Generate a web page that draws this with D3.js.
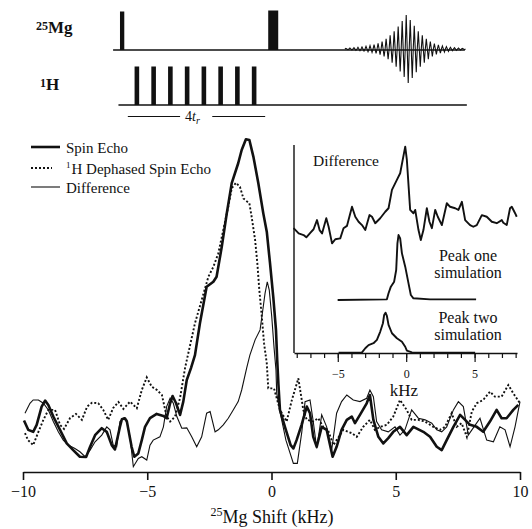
<!DOCTYPE html>
<html>
<head>
<meta charset="utf-8">
<script src="https://cdn.jsdelivr.net/npm/d3@7"></script>
<style>
  body { margin: 0; background: #fff; }
</style>
</head>
<body>
<div id="chart"></div>
<script>
// main spectrum, [shift kHz, intensity]
const spinEcho = [[-9.96,15.5],[-9.79,12.7],[-9.59,12.1],[-9.45,14.2],[-9.25,19.7],[-9.11,21.5],[-8.98,20.2],[-8.78,16.7],[-8.51,12.7],[-8.24,8.6],[-7.98,6.6],[-7.71,4.6],[-7.46,4.5],[-7.30,7.6],[-7.10,11.1],[-6.83,13.2],[-6.63,12.1],[-6.43,8.1],[-6.30,6.8],[-6.10,13.6],[-6.02,15.9],[-5.90,16.2],[-5.82,15.2],[-5.63,7.6],[-5.52,4.6],[-5.36,5.6],[-5.22,9.6],[-5.09,13.6],[-4.89,16.2],[-4.62,17.5],[-4.35,16.9],[-4.22,16.2],[-4.08,20.7],[-3.98,22.9],[-3.84,20.7],[-3.68,17.2],[-3.55,21.2],[-3.41,27.7],[-3.24,31.3],[-3.08,35.2],[-2.88,44.8],[-2.61,55.8],[-2.34,57.3],[-2.21,58.8],[-2.00,67.9],[-1.80,77.9],[-1.60,87.0],[-1.34,93.0],[-1.20,97.0],[-1.03,100.2],[-0.89,100],[-0.73,95.0],[-0.53,87.0],[-0.33,77.9],[-0.19,72.4],[-0.06,62.9],[0.07,52.8],[0.18,42.8],[0.23,33.7],[0.28,26.2],[0.34,18.7],[0.54,13.6],[0.77,8.1],[0.88,7.1],[1.01,9.6],[1.21,14.2],[1.42,19.7],[1.55,17.7],[1.68,10.6],[1.82,7.6],[2.02,13.6],[2.22,12.7],[2.46,4.6],[2.62,7.6],[2.82,12.7],[3.03,15.7],[3.23,16.7],[3.36,14.7],[3.56,17.2],[3.83,20.7],[3.96,23.2],[4.10,15.7],[4.30,10.6],[4.50,8.6],[4.70,10.2],[4.90,12.1],[5.17,13.6],[5.44,11.1],[5.71,13.6],[6.11,12.1],[6.38,10.6],[6.65,7.6],[6.85,6.6],[7.05,9.6],[7.32,13.6],[7.59,17.2],[7.79,15.7],[7.99,14.2],[8.26,13.6],[8.52,12.1],[8.79,15.2],[9.06,18.7],[9.26,16.2],[9.46,16.2],[9.73,18.7],[9.93,20.2]];

const dephased = [[-9.92,11.7],[-9.80,9.6],[-9.59,8.1],[-9.38,12.1],[-9.18,15.7],[-8.98,18.7],[-8.71,18.7],[-8.51,14.2],[-8.35,13.0],[-8.11,16.2],[-7.87,17.5],[-7.63,15.7],[-7.42,19.7],[-7.22,20.9],[-6.97,20.7],[-6.77,18.7],[-6.57,15.7],[-6.37,19.3],[-6.16,21.1],[-5.96,19.0],[-5.69,21.2],[-5.42,19.2],[-5.22,24.7],[-5.02,28.5],[-4.82,25.7],[-4.61,24.7],[-4.41,23.2],[-4.22,16.7],[-4.08,15.2],[-3.88,16.7],[-3.68,22.3],[-3.48,31.3],[-3.32,36.7],[-3.08,44.8],[-2.81,51.8],[-2.54,58.8],[-2.34,61.8],[-2.14,65.9],[-1.94,72.9],[-1.74,79.9],[-1.60,85.5],[-1.43,87.1],[-1.27,85.9],[-1.13,82.4],[-0.89,80.9],[-0.80,76.9],[-0.66,69.9],[-0.57,62.9],[-0.49,54.8],[-0.39,46.8],[-0.30,38.8],[-0.19,32.7],[-0.13,25.2],[0.10,25.2],[0.34,18.7],[0.61,15.2],[0.82,21.7],[1.08,28.2],[1.28,18.7],[1.42,15.7],[1.68,15.2],[1.88,16.2],[2.08,13.6],[2.27,12.7],[2.49,8.1],[2.62,9.6],[2.89,12.7],[3.23,11.7],[3.43,10.6],[3.69,13.6],[3.96,15.7],[4.16,12.7],[4.37,13.6],[4.64,14.2],[4.90,16.7],[5.17,21.7],[5.44,18.7],[5.64,15.7],[5.91,15.7],[6.18,15.2],[6.51,13.6],[6.78,12.7],[6.98,13.6],[7.25,17.7],[7.45,13.6],[7.65,14.7],[7.86,10.6],[8.06,18.2],[8.26,20.7],[8.52,21.7],[8.79,24.2],[8.99,22.7],[9.26,22.7],[9.53,26.2],[9.73,23.7],[10.0,20.7]];

const difference = [[-9.92,17.7],[-9.72,20.7],[-9.59,21.7],[-9.38,21.7],[-9.18,20.7],[-8.98,18.7],[-8.78,15.2],[-8.58,12.1],[-8.38,9.6],[-8.18,8.1],[-7.91,7.1],[-7.71,6.1],[-7.50,4.6],[-7.30,6.6],[-7.10,9.1],[-6.83,11.1],[-6.63,13.6],[-6.50,12.7],[-6.37,8.1],[-6.23,7.6],[-6.10,15.2],[-5.96,16.2],[-5.83,15.7],[-5.69,10.2],[-5.56,1.6],[-5.36,4.1],[-5.22,4.6],[-5.02,3.6],[-4.89,8.1],[-4.76,9.6],[-4.49,10.6],[-4.35,13.6],[-4.22,19.7],[-4.08,22.2],[-3.95,20.7],[-3.81,16.7],[-3.61,13.2],[-3.41,13.3],[-3.21,10.6],[-3.01,7.6],[-2.81,10.6],[-2.61,17.7],[-2.47,18.2],[-2.27,12.1],[-2.14,12.7],[-1.94,14.2],[-1.74,16.2],[-1.54,18.7],[-1.34,21.2],[-1.20,24.7],[-1.00,31.3],[-0.87,35.2],[-0.66,39.8],[-0.46,42.8],[-0.35,48.8],[-0.26,53.8],[-0.17,57.3],[-0.09,54.8],[0.01,46.8],[0.10,37.7],[0.18,30.7],[0.21,23.7],[0.34,18.2],[0.58,9.6],[0.88,2.6],[1.04,2.6],[1.22,12.1],[1.35,21.2],[1.55,21.7],[1.68,15.2],[1.82,7.1],[2.02,17.2],[2.22,13.6],[2.42,6.6],[2.62,17.7],[2.82,21.2],[3.03,23.2],[3.29,21.7],[3.56,21.2],[3.83,22.2],[3.96,24.7],[4.10,22.7],[4.23,15.2],[4.43,12.7],[4.70,12.1],[4.97,13.6],[5.17,11.1],[5.37,12.7],[5.64,18.7],[5.91,16.2],[6.18,15.7],[6.45,14.7],[6.65,12.7],[6.85,12.1],[7.05,13.6],[7.32,18.7],[7.52,21.2],[7.72,19.7],[7.92,11.1],[8.12,13.3],[8.39,16.2],[8.66,9.6],[8.93,9.1],[9.19,13.6],[9.40,12.7],[9.60,7.6],[9.80,13.6],[10.0,21.2]];

// inset traces (stacked, intensity includes the vertical offset)
const insetDiff = [[-8.23,60],[-7.86,57.5],[-7.50,56.7],[-7.30,55.6],[-7.01,57.8],[-6.77,59.5],[-6.52,63.9],[-6.33,59.1],[-6.15,57.5],[-5.84,64.8],[-5.67,60.7],[-5.42,52.7],[-5.18,54.7],[-4.82,55.1],[-4.58,60],[-4.33,61.1],[-3.96,70.3],[-3.72,65.5],[-3.48,63.1],[-3.23,61.5],[-2.99,59.1],[-2.68,66.3],[-2.50,65.5],[-2.26,62.4],[-1.90,64.8],[-1.53,67.9],[-1.29,69.6],[-1.04,78.4],[-0.68,83.2],[-0.44,86.4],[-0.07,99.2],[0.05,92.8],[0.29,68.8],[0.53,67.2],[0.66,68.8],[0.90,59.1],[1.07,54.3],[1.26,59.1],[1.51,69.6],[1.70,63.1],[1.88,60],[2.12,68.8],[2.31,65.5],[2.61,61.5],[2.97,72],[3.21,70.3],[3.58,69.6],[3.82,68.8],[4.07,72.7],[4.31,63.9],[4.67,61.5],[4.91,60.7],[5.16,61.5],[5.53,66.3],[5.89,65.5],[6.26,63.1],[6.62,62.4],[6.99,63.9],[7.10,62.6],[7.35,61.5],[7.59,69.6],[7.72,70.3],[7.96,67.2],[8.08,65.5]];
const peakOne = [[-5.01,25.5],[-1.41,25.8],[-1.29,28.7],[-1.12,31.9],[-0.88,34.3],[-0.73,39.9],[-0.64,52.7],[-0.56,56.7],[-0.44,55.1],[-0.31,47.9],[-0.07,41.5],[0.17,33.5],[0.34,27.9],[0.53,26.3],[1.75,25.8],[5.11,25.8]];
const peakTwo = [[-4.94,0.1],[-3.23,0.3],[-2.99,2.3],[-2.75,3.8],[-2.39,4.7],[-2.14,6.3],[-1.90,10.2],[-1.70,14.3],[-1.61,18.3],[-1.51,19.4],[-1.41,17.8],[-1.29,13.5],[-1.04,9.5],[-0.68,7.1],[-0.31,5.4],[-0.07,3.0],[0.05,1.1],[0.42,0.3],[5.04,0.1]];

const mainTicks = [-10, -5, 0, 5, 10];
const insetMinorTicks = d3.range(-8, 9);
const insetMajorTicks = [-5, 0, 5];

// pulse sequence, times in units of t_r
const mgPulseTimes = [-0.19, 4.32];
const hPulseTimes = [0.25, 0.75, 1.25, 1.75, 2.25, 2.75, 3.25, 3.75];
const echoAmp = [0.02,0.03,0.04,0.05,0.06,0.08,0.1,0.13,0.17,0.22,0.3,0.4,0.52,0.66,0.82,1,0.85,0.68,0.52,0.4,0.3,0.22,0.16,0.12,0.09,0.07,0.05,0.04,0.03,0.02];

const width = 532, height = 529;
const ink = "#111";
const serif = "'Liberation Serif', 'Times New Roman', Times, serif";

const svg = d3.select("#chart").append("svg")
    .attr("width", width)
    .attr("height", height)
    .style("font-family", serif);

// ---- pulse sequence ----
const seqX = d3.scaleLinear().domain([0, 4]).range([128.5, 262.5]);
const mgBase = 50, hBase = 105;

svg.append("line").attr("x1", seqX(-0.46)).attr("x2", seqX(10.04))
    .attr("y1", mgBase).attr("y2", mgBase).attr("stroke", ink).attr("stroke-width", 1.3);
svg.append("line").attr("x1", seqX(-0.3)).attr("x2", seqX(10.1))
    .attr("y1", hBase).attr("y2", hBase).attr("stroke", ink).attr("stroke-width", 1.3);

const mgW = [4.3, 10], mgTop = [11.5, 10.5];
svg.selectAll("rect.mg").data(mgPulseTimes).enter().append("rect")
    .attr("class", "mg")
    .attr("x", (d, i) => seqX(d) - mgW[i] / 2)
    .attr("width", (d, i) => mgW[i])
    .attr("y", (d, i) => mgTop[i])
    .attr("height", (d, i) => mgBase - mgTop[i])
    .attr("fill", ink);

svg.selectAll("rect.h").data(hPulseTimes).enter().append("rect")
    .attr("class", "h")
    .attr("x", d => seqX(d) - 2.3)
    .attr("width", 4.6)
    .attr("y", 66.5)
    .attr("height", hBase - 66.5)
    .attr("fill", ink);

// echo signal
const echoY = d3.scaleLinear().domain([-1, 1]).range([mgBase + 33, mgBase - 35]);
const echoT0 = 6.46, echoP = 0.12;
const echoPts = [];
echoAmp.forEach((a, i) => {
    const t = echoT0 + i * echoP;
    echoPts.push([t, 0], [t + echoP * 0.25, a], [t + echoP * 0.75, -a]);
});
echoPts.push([echoT0 + echoAmp.length * echoP, 0]);
svg.append("path")
    .attr("d", d3.line().x(d => seqX(d[0])).y(d => echoY(d[1]))(echoPts))
    .attr("fill", "none").attr("stroke", ink).attr("stroke-width", 1.1);

// channel labels
function txt(xp, yp, size) {
    return svg.append("text").attr("x", xp).attr("y", yp)
        .style("font-family", serif).attr("font-size", size).attr("fill", ink);
}
const mgLab = txt(36, 33, 17).attr("font-weight", "bold");
mgLab.append("tspan").attr("font-size", 12).attr("dy", -3).text("25");
mgLab.append("tspan").attr("dy", 3).text("Mg");
const hLab = txt(40, 90, 17).attr("font-weight", "bold");
hLab.append("tspan").attr("font-size", 12).attr("dy", -3).text("1");
hLab.append("tspan").attr("dy", 3).text("H");

// 4 t_r span
svg.append("line").attr("x1", seqX(-0.02)).attr("x2", seqX(1.54))
    .attr("y1", 116.5).attr("y2", 116.5).attr("stroke", ink).attr("stroke-width", 1);
svg.append("line").attr("x1", seqX(2.5)).attr("x2", seqX(4.08))
    .attr("y1", 116.5).attr("y2", 116.5).attr("stroke", ink).attr("stroke-width", 1);
const trLab = txt(185, 121, 14);
trLab.append("tspan").text("4");
trLab.append("tspan").attr("font-style", "italic").text("t");
trLab.append("tspan").attr("font-style", "italic").attr("font-size", 10).attr("dy", 3).text("r");

// ---- main spectrum ----
const x = d3.scaleLinear().domain([-10, 10]).range([23, 520]);
const y = d3.scaleLinear().domain([0, 100]).range([472, 140]);
const line = d3.line().x(d => x(d[0])).y(d => y(d[1]));

svg.append("path").attr("d", line(difference))
    .attr("fill", "none").attr("stroke", ink).attr("stroke-width", 1.1);
svg.append("path").attr("d", line(dephased))
    .attr("fill", "none").attr("stroke", ink).attr("stroke-width", 1.9)
    .attr("stroke-dasharray", "2,2");
svg.append("path").attr("d", line(spinEcho))
    .attr("fill", "none").attr("stroke", ink).attr("stroke-width", 2.6)
    .attr("stroke-linejoin", "round");

const xAxis = svg.append("g")
    .attr("transform", `translate(0,472)`)
    .call(d3.axisBottom(x).tickValues(mainTicks).tickSize(8).tickSizeOuter(0).tickPadding(6)
        .tickFormat(d3.format("d")));
xAxis.attr("font-family", null);
xAxis.select(".domain").attr("stroke", ink).attr("stroke-width", 1.6);
xAxis.selectAll(".tick line").attr("stroke", ink).attr("stroke-width", 1.6);
xAxis.selectAll(".tick text").attr("font-size", 16).style("font-family", serif).attr("fill", ink);

const xTitle = txt(272, 523, 18).attr("text-anchor", "middle");
xTitle.append("tspan").attr("font-size", 12).attr("dy", -7).text("25");
xTitle.append("tspan").attr("dy", 7).text("Mg Shift (kHz)");

// legend
const legendRows = ["Spin Echo", "H Dephased Spin Echo", "Difference"];
const legendY = [153, 174, 193];
const legW = [2.6, 1.9, 1.1], legLen = [29, 21, 29], legDash = [null, "2,2", null];
legendRows.forEach((name, i) => {
    svg.append("line")
        .attr("x1", 31).attr("x2", 31 + legLen[i])
        .attr("y1", legendY[i] - 6).attr("y2", legendY[i] - 6)
        .attr("stroke", ink).attr("stroke-width", legW[i])
        .attr("stroke-dasharray", legDash[i]);
    const t = txt(66, legendY[i], 15);
    if (i === 1) {
        t.append("tspan").attr("font-size", 9).attr("dy", -6).text("1");
        t.append("tspan").attr("dy", 6).attr("dx", 1).text(name);
    } else {
        t.text(name);
    }
});

// ---- inset ----
const ix = d3.scaleLinear().domain([-8.2, 8.1]).range([294, 517]);
const iy = d3.scaleLinear().domain([0, 100]).range([353, 145]);
const iline = d3.line().x(d => ix(d[0])).y(d => iy(d[1]));

svg.append("line").attr("x1", 294).attr("x2", 294).attr("y1", 145).attr("y2", 353)
    .attr("stroke", ink).attr("stroke-width", 1.4);

const iMinor = svg.append("g").attr("transform", "translate(0,353)")
    .call(d3.axisBottom(ix).tickValues(insetMinorTicks).tickSize(5).tickSizeOuter(0).tickFormat(""));
iMinor.select(".domain").attr("stroke", ink).attr("stroke-width", 1.4);
iMinor.selectAll(".tick line").attr("stroke", ink).attr("stroke-width", 1.2);

const iMajor = svg.append("g").attr("transform", "translate(0,353)")
    .call(d3.axisBottom(ix).tickValues(insetMajorTicks).tickSize(9).tickPadding(7).tickFormat(d3.format("d")));
iMajor.attr("font-family", null);
iMajor.select(".domain").remove();
iMajor.selectAll(".tick line").attr("stroke", ink).attr("stroke-width", 1.2);
iMajor.selectAll(".tick text").attr("font-size", 12).style("font-family", serif).attr("fill", ink);

txt(404, 396, 17).attr("text-anchor", "middle").text("kHz");

[insetDiff, peakOne, peakTwo].forEach(tr => {
    svg.append("path").attr("d", iline(tr))
        .attr("fill", "none").attr("stroke", ink).attr("stroke-width", 1.9)
        .attr("stroke-linejoin", "round");
});

txt(313, 166, 15.5).text("Difference");
const insetLabels = [["Peak one", "simulation"], ["Peak two", "simulation"]];
const insetLabelY = [261, 323];
insetLabels.forEach((lines, i) => {
    lines.forEach((s, j) => {
        txt(468, insetLabelY[i] + j * 16.5, 16).attr("text-anchor", "middle").text(s);
    });
});
</script>
</body>
</html>
